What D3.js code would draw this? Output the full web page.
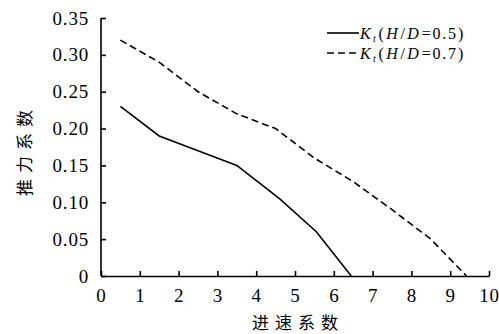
<!DOCTYPE html>
<html>
<head>
<meta charset="utf-8">
<script src="https://cdn.jsdelivr.net/npm/d3@7"></script>
<style>
  html, body { margin: 0; padding: 0; background: #fff; }
  svg { display: block; }
  text { font-family: "Liberation Serif", "Times New Roman", serif; fill: #000; }
  text.cjk { font-family: "Noto Sans CJK SC", sans-serif; }
</style>
</head>
<body>
<svg id="chart" width="499" height="334"></svg>
<script>
// Thrust coefficient vs. advance coefficient for two pitch ratios
const advance05 = [0.5, 1.5, 2.5, 3.5, 4.6, 5.55, 6.45];
const thrust05  = [0.23, 0.19, 0.17, 0.15, 0.105, 0.06, 0];
const advance07 = [0.5, 1.5, 2.5, 3.5, 4.5, 5.5, 6.5, 7.5, 8.5, 9.42];
const thrust07  = [0.32, 0.29, 0.25, 0.22, 0.2, 0.16, 0.128, 0.09, 0.05, 0];
const xTicks = [0, 1, 2, 3, 4, 5, 6, 7, 8, 9, 10];
const yTicks = [0, 0.05, 0.10, 0.15, 0.20, 0.25, 0.30, 0.35];
const seriesNames = ["0.5", "0.7"];

const svg = d3.select("#chart");
const x = d3.scaleLinear().domain([0, 10]).range([101, 489]);
const y = d3.scaleLinear().domain([0, 0.35]).range([276, 18]);

// Axes with inward ticks
const xAxis = svg.append("g").attr("transform", `translate(0,${y(0)})`)
  .call(d3.axisBottom(x).tickValues(xTicks).tickSizeInner(-5).tickSizeOuter(0)
        .tickPadding(13).tickFormat(d3.format("d")));
const yAxis = svg.append("g").attr("transform", `translate(${x(0)},0)`)
  .call(d3.axisLeft(y).tickValues(yTicks).tickSizeInner(-5).tickSizeOuter(0)
        .tickPadding(12).tickFormat(d => d === 0 ? "0" : d3.format(".2f")(d)));

[xAxis, yAxis].forEach(g => {
  g.attr("font-family", null).attr("font-size", null);
  g.select(".domain").attr("stroke", "#000").attr("stroke-width", 1.6);
  g.selectAll(".tick line").attr("stroke", "#000").attr("stroke-width", 1.6);
  g.selectAll(".tick text")
    .style("font-family", "'Liberation Serif', serif")
    .style("font-size", "19px")
    .style("letter-spacing", "0.8px")
    .attr("fill", "#000");
});
xAxis.selectAll(".tick text").attr("dy", "0.71em");
yAxis.select(".domain").attr("d", `M0,${y(0.35)}V${y(0)}`);

// Series lines
const line = d3.line().x(d => x(d[0])).y(d => y(d[1]));
svg.append("path")
  .datum(d3.zip(advance05, thrust05))
  .attr("d", line).attr("fill", "none").attr("stroke", "#000").attr("stroke-width", 1.6);
svg.append("path")
  .datum(d3.zip(advance07, thrust07))
  .attr("d", line).attr("fill", "none").attr("stroke", "#000").attr("stroke-width", 1.6)
  .attr("stroke-dasharray", "7,4");

// Legend: swatch + K_t(H/D=value)
const legend = svg.append("g");
seriesNames.forEach((name, i) => {
  const ly = 33 + i * 20;
  legend.append("line")
    .attr("x1", 327).attr("x2", 359).attr("y1", ly).attr("y2", ly)
    .attr("stroke", "#000").attr("stroke-width", 1.6)
    .attr("stroke-dasharray", i === 0 ? null : "7,4");
  const t = legend.append("text").attr("x", 360).attr("y", ly + 5.5)
    .style("font-size", "16px").style("letter-spacing", "1.8px");
  t.append("tspan").attr("font-style", "italic").text("K");
  t.append("tspan").attr("font-style", "italic").style("font-size", "10px")
    .attr("dx", 0.5).attr("dy", 3).text("t");
  t.append("tspan").attr("dx", 1).attr("dy", -3).text("(");
  t.append("tspan").attr("font-style", "italic").attr("dx", 0.5).text("H");
  t.append("tspan").attr("dx", 1).text("/");
  t.append("tspan").attr("font-style", "italic").attr("dx", 0.5).text("D");
  t.append("tspan").attr("dx", 1).text("=" + name + ")");
});

// Axis titles
svg.append("text").attr("class", "cjk")
  .attr("x", 298).attr("y", 329).attr("text-anchor", "middle")
  .style("font-size", "17px").style("letter-spacing", "6px")
  .text("进速系数");
svg.append("text").attr("class", "cjk")
  .attr("transform", `translate(31,${(y(0) + y(0.35)) / 2 + 3}) rotate(-90)`)
  .attr("text-anchor", "middle")
  .style("font-size", "17px").style("letter-spacing", "6px")
  .text("推力系数");
</script>
</body>
</html>
